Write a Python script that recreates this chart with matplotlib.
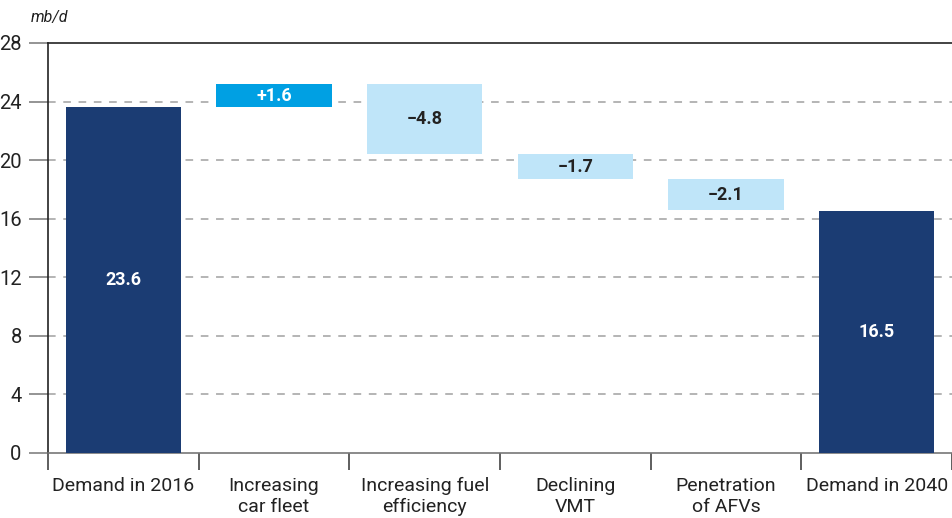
import matplotlib
matplotlib.use("Agg")
import matplotlib.pyplot as plt
import numpy as np

categories = ["Demand in 2016", "Increasing\ncar fleet", "Increasing fuel\nefficiency",
              "Declining\nVMT", "Penetration\nof AFVs", "Demand in 2040"]
values = [23.6, 1.6, -4.8, -1.7, -2.1, 16.5]
labels = ["23.6", "+1.6", "\u22124.8", "\u22121.7", "\u22122.1", "16.5"]
kinds = ["total", "up", "down", "down", "down", "total"]
yticks = [0, 4, 8, 12, 16, 20, 24, 28]

colors = {"total": "#1b3c73", "up": "#00a0e3", "down": "#bfe5f9"}
textcolors = {"total": "white", "up": "white", "down": "#222222"}

plt.rcParams['font.family'] = ['Roboto', 'DejaVu Sans']

fig = plt.figure(figsize=(9.53, 5.18), dpi=100)
ax = fig.add_axes([0.0504, 0.1255, 0.9486, 0.7915])

x = np.arange(len(categories))
bottoms, heights = [], []
running = 0.0
for v, k in zip(values, kinds):
    if k == "total":
        bottoms.append(0.0)
        heights.append(v)
        running = v
    else:
        if v >= 0:
            bottoms.append(running)
        else:
            bottoms.append(running + v)
        heights.append(abs(v))
        running += v

for xi, b, h, k, lab in zip(x, bottoms, heights, kinds, labels):
    ax.bar(xi, h, bottom=b, width=0.765, color=colors[k], zorder=3)
    ax.text(xi, b + h / 2, lab, ha="center", va="center", fontsize=13,
            fontweight="bold", color=textcolors[k], zorder=4)

ax.set_xlim(-0.5, len(categories) - 0.5)
ax.set_ylim(0, 28)
ax.set_yticks(yticks)
ax.set_yticklabels([str(t) for t in yticks], fontsize=14.5, color="#222222")
for t in yticks[1:-1]:
    ax.axhline(t, color="#a0a0a0", linestyle=(0, (5, 5)), linewidth=1.1, zorder=1)

ax.set_xticks(x)
ax.set_xticklabels(categories, fontsize=14, color="#222222", linespacing=1.25)
ax.tick_params(axis="x", which="major", length=0, pad=17)
ax.set_xticks(np.arange(-0.5, len(categories)), minor=True)
ax.tick_params(axis="x", which="minor", length=12, width=1.1, color="#333333", direction="out")
ax.tick_params(axis="y", length=14, width=1.1, color="#777777", pad=5)

ax.spines["right"].set_visible(False)
ax.spines["top"].set_color("#222222")
ax.spines["top"].set_linewidth(1.2)
ax.spines["left"].set_color("#222222")
ax.spines["left"].set_linewidth(1.2)
ax.spines["bottom"].set_color("#777777")
ax.spines["bottom"].set_linewidth(1.2)

fig.text(0.032, 0.966, "mb/d", fontsize=11.5, style="italic", color="#222222", ha="left", va="center")

fig.savefig("out.png", dpi=100)
